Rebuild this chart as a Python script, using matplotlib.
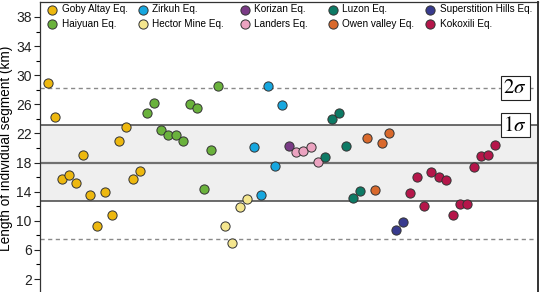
import matplotlib
matplotlib.use("Agg")
import matplotlib.pyplot as plt
import numpy as np

plt.rcParams['font.family'] = ['Liberation Sans', 'DejaVu Sans']
plt.rcParams['mathtext.fontset'] = 'stix'

names = ["Goby Altay Eq.", "Haiyuan Eq.", "Hector Mine Eq.", "Zirkuh Eq.", "Korizan Eq.",
         "Landers Eq.", "Luzon Eq.", "Owen valley Eq.", "Superstition Hills Eq.", "Kokoxili Eq."]
colors = ["#EDB80F", "#6AB23C", "#F4E68E", "#17A7DF", "#7A3B86",
          "#EBA3C0", "#0D7A65", "#D9692C", "#383B8E", "#B5164A"]
goby = [28.9, 24.2, 15.7, 16.3, 15.2, 19.0, 13.5, 9.25, 14.0, 10.8, 20.9, 22.85, 15.7, 16.8]
haiyuan = [24.8, 26.2, 22.5, 21.75, 21.75, 21.0, 26.0, 25.5, 14.3, 19.7, 28.5]
hector = [9.35, 6.9, 11.85, 13.0]
zirkuh = [20.2, 13.6, 28.5, 17.5, 25.9]
korizan = [20.3]
landers = [19.5, 19.6, 20.1, 18.1]
luzon = [18.7, 23.95, 24.75, 20.3, 13.2, 14.1]
owen = [21.4, 14.2, 20.7, 22.0]
superstition = [8.8, 9.8]
kokoxili = [13.8, 16.0, 12.0, 16.7, 16.0, 15.6, 10.85, 12.3, 12.3, 17.35, 18.9, 19.1, 20.45]
series = [goby, haiyuan, hector, zirkuh, korizan, landers, luzon, owen, superstition, kokoxili]

mean = 17.9
sig1 = (12.7, 23.1)
sig2 = (7.45, 28.3)
yticks = [2, 6, 10, 14, 18, 22, 26, 30, 34, 38]

W, H = 540, 292
fig = plt.figure(figsize=(5.4, 2.92), dpi=100)
ax = fig.add_axes([40/W, -1.6/H, 497.7/W, 291.2/H])
ax.set_xlim(-1.08, 68.96)
ax.set_ylim(0, 40)

ax.axhspan(sig1[0], sig1[1], color="#EFEFEF", zorder=0, lw=0)
ax.axhline(sig1[0], color="#444444", lw=1.1, zorder=1)
ax.axhline(sig1[1], color="#444444", lw=1.1, zorder=1)
ax.axhline(mean, color="#707070", lw=1.6, zorder=1)
for v in sig2:
    ax.axhline(v, color="#8a8a8a", lw=1.0, ls=(0, (3, 2.5)), zorder=1)

handles = {}
start = 0
for name, col, vals in zip(names, colors, series):
    x = np.arange(start, start + len(vals))
    h = ax.scatter(x, vals, s=44, c=col, edgecolors="#333333", linewidths=0.7, zorder=3, label=name)
    handles[name] = h
    start += len(vals)

# legend: five columns of two entries
columns = [["Goby Altay Eq.", "Haiyuan Eq."], ["Zirkuh Eq.", "Hector Mine Eq."],
           ["Korizan Eq.", "Landers Eq."], ["Luzon Eq.", "Owen valley Eq."],
           ["Superstition Hills Eq.", "Kokoxili Eq."]]
col_px = [52, 143, 245, 333, 430]
fs = 7.2
half_handle_px = 0.5 * 1.0 * fs * 100 / 72
for cx, entries in zip(col_px, columns):
    lg = fig.legend([handles[n] for n in entries], entries, loc="upper left",
                    bbox_to_anchor=((cx - half_handle_px) / W, 1 - 4.5 / H),
                    bbox_transform=fig.transFigure, frameon=False, fontsize=fs,
                    handletextpad=0.45, labelspacing=0.42, borderaxespad=0, borderpad=0,
                    scatterpoints=1, handlelength=1.0)

for v, lab in [(sig2[1], r"$2\sigma$"), (sig1[1], r"$1\sigma$")]:
    ax.text(65.8, v, lab, fontsize=15, ha="center", va="center", zorder=5,
            bbox=dict(boxstyle="square,pad=0.12", fc="white", ec="#222222", lw=0.8))

ax.set_yticks(yticks)
ax.set_yticks([4, 8, 12, 16, 20, 24, 28, 32, 36], minor=True)
ax.tick_params(axis="y", which="major", length=4.5, width=0.8, labelsize=10, pad=1.5, colors="#222222")
ax.tick_params(axis="y", which="minor", length=3, width=0.8)
ax.set_xticks([])
ax.spines["bottom"].set_visible(False)
for s in ["left", "top", "right"]:
    ax.spines[s].set_color("#333333")
ax.spines["left"].set_linewidth(0.9)
ax.spines["top"].set_linewidth(0.9)
ax.spines["right"].set_linewidth(1.4)
ax.set_ylabel("Length of individual segment (km)", fontsize=9.8, labelpad=2)

fig.savefig("out.png", dpi=100)
